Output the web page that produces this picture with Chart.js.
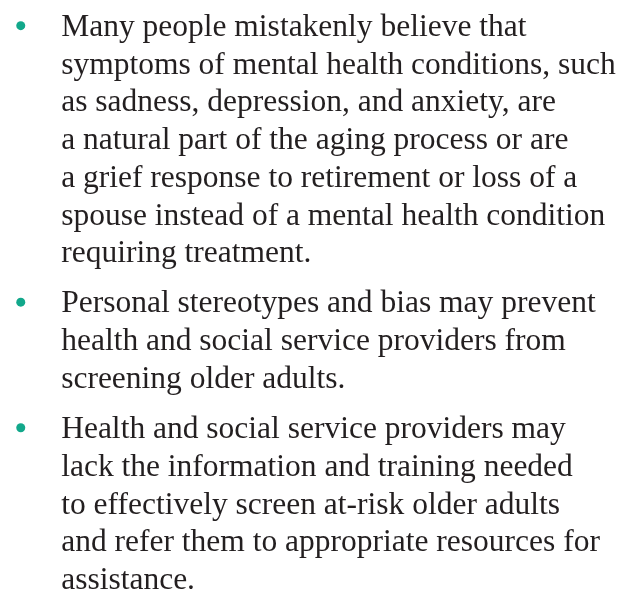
<!DOCTYPE html>
<html>
<head>
<meta charset="utf-8">
<script src="https://cdn.jsdelivr.net/npm/chart.js@4"></script>
<style>
  html, body { margin: 0; padding: 0; background: #ffffff; }
  #wrap { width: 619px; height: 598px; position: relative; }
</style>
</head>
<body>
<div id="wrap"><canvas id="chartBullets"></canvas></div>
<script>
// Isi teks per poin (baris sesuai gambar)
const bullet1 = [
  'Many people mistakenly believe that',
  'symptoms of mental health conditions, such',
  'as sadness, depression, and anxiety, are',
  'a natural part of the aging process or are',
  'a grief response to retirement or loss of a',
  'spouse instead of a mental health condition',
  'requiring treatment.'
];
const bullet2 = [
  'Personal stereotypes and bias may prevent',
  'health and social service providers from',
  'screening older adults.'
];
const bullet3 = [
  'Health and social service providers may',
  'lack the information and training needed',
  'to effectively screen at-risk older adults',
  'and refer them to appropriate resources for',
  'assistance.'
];
const paragraphs = [bullet1, bullet2, bullet3];

// Tata letak (piksel)
const W = 619, H = 598;
const firstBaseline = 32;
const lineHeight = 38.3;
const paraGap = 12.6;
const textLeft = 57.5;
const bulletX = 16.5;
const bulletRise = 10.5;

// Hitung posisi baseline tiap baris
const lineItems = [];
const bulletPoints = [];
let y = firstBaseline;
paragraphs.forEach((lines, p) => {
  if (p > 0) y += paraGap;
  bulletPoints.push({ x: bulletX, y: y - bulletRise });
  lines.forEach(t => {
    lineItems.push({ text: t, x: textLeft, y: y });
    y += lineHeight;
  });
});

// Plugin untuk menggambar teks di posisi skala
const textPlugin = {
  id: 'bulletText',
  afterDatasetsDraw(chart) {
    const ctx = chart.ctx;
    const sx = chart.scales.x, sy = chart.scales.y;
    ctx.save();
    ctx.fillStyle = '#231f20';
    ctx.font = '31.5px "Liberation Serif", "Times New Roman", serif';
    ctx.textBaseline = 'alphabetic';
    ctx.textAlign = 'left';
    lineItems.forEach(l => {
      ctx.fillText(l.text, sx.getPixelForValue(l.x), sy.getPixelForValue(l.y));
    });
    ctx.restore();
  }
};

const ctx = document.getElementById('chartBullets').getContext('2d');
new Chart(ctx, {
  type: 'scatter',
  data: {
    datasets: [{
      data: bulletPoints,
      backgroundColor: '#12a88b',
      borderWidth: 0,
      pointRadius: 4.5,
      pointHoverRadius: 4.5
    }]
  },
  options: {
    responsive: true,
    maintainAspectRatio: false,
    animation: false,
    layout: { padding: 0 },
    scales: {
      x: { type: 'linear', min: 0, max: W, display: false },
      y: { type: 'linear', min: 0, max: H, reverse: true, display: false }
    },
    plugins: {
      legend: { display: false },
      tooltip: { enabled: false }
    },
    events: []
  },
  plugins: [textPlugin]
});
</script>
</body>
</html>
